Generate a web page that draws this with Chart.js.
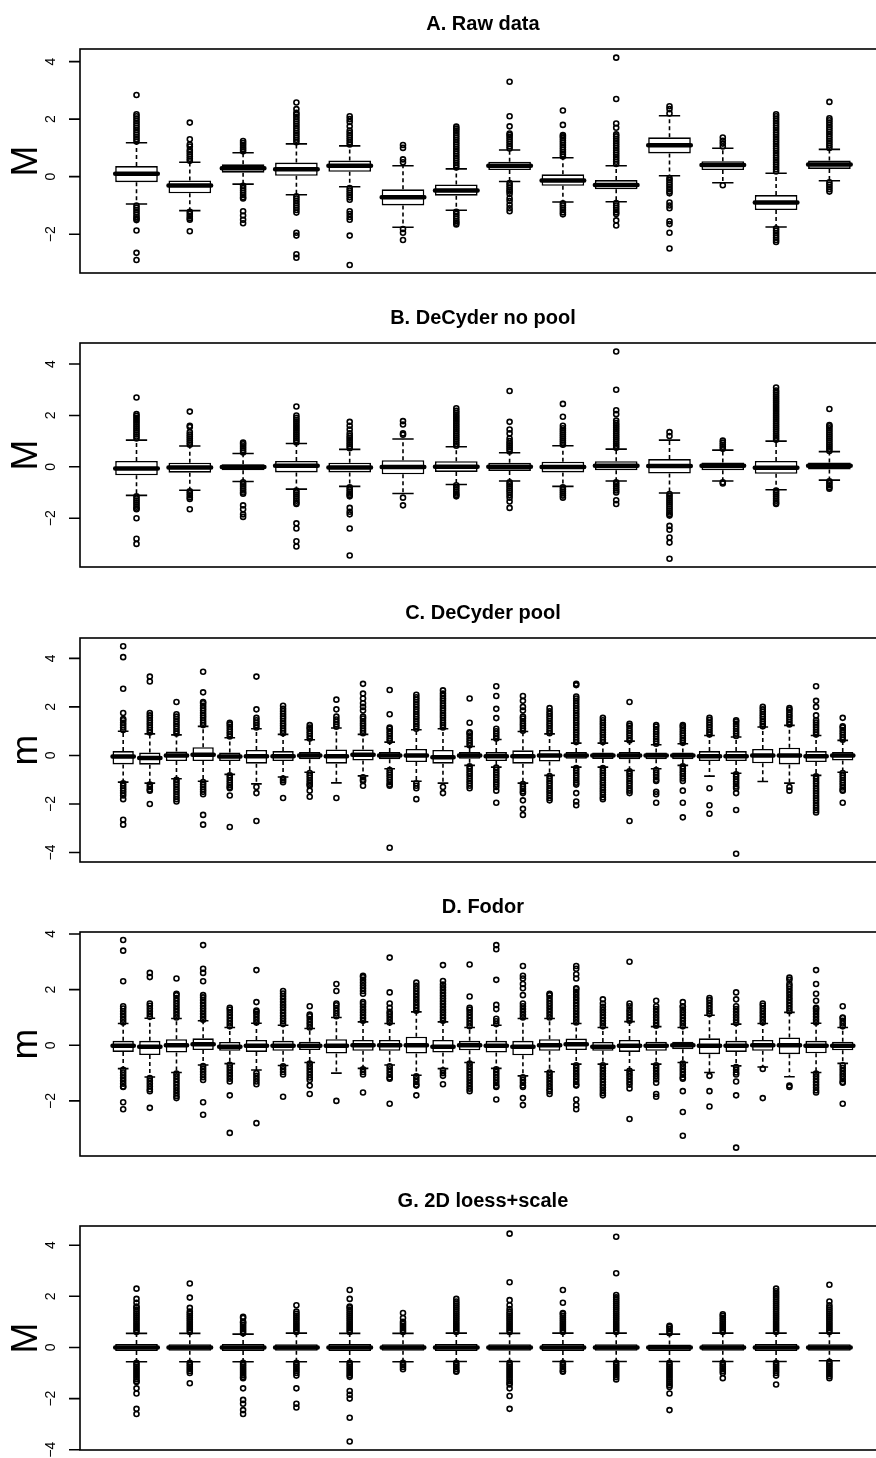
<!DOCTYPE html>
<html>
<head>
<meta charset="utf-8">
<title>Normalisation boxplots</title>
<script src="https://cdn.jsdelivr.net/npm/chart.js@4.4.0/dist/chart.umd.min.js"></script>
<style>
  html, body { margin: 0; padding: 0; background: #fff; width: 876px; height: 1458px; overflow: hidden; }
  canvas.panel { position: absolute; left: 0; }
</style>
</head>
<body>
<canvas id="panelA" class="panel" width="890" height="294" style="top:0px"></canvas>
<canvas id="panelB" class="panel" width="890" height="294" style="top:294px"></canvas>
<canvas id="panelC" class="panel" width="890" height="294" style="top:589px"></canvas>
<canvas id="panelD" class="panel" width="890" height="294" style="top:883px"></canvas>
<canvas id="panelG" class="panel" width="890" height="294" style="top:1177px"></canvas>
<script>
// ---- A. Raw data ----
const titleA = 'A. Raw data';
const ylabA = 'M';
const ticksA = [-2, 0, 2, 4];
const rangeA = [-3.35, 4.44];
const q1A  = [-0.19, -0.58, 0.14, 0.03, 0.17, -1.0, -0.66, 0.23, -0.32, -0.44, 0.81, 0.23, -1.16, 0.27];
const medA = [0.10, -0.31, 0.29, 0.26, 0.38, -0.72, -0.48, 0.38, -0.13, -0.29, 1.09, 0.41, -0.9, 0.42];
const q3A  = [0.37, -0.13, 0.43, 0.49, 0.56, -0.44, -0.27, 0.52, 0.08, -0.12, 1.37, 0.54, -0.64, 0.56];
const loA  = [-0.95, -1.18, -0.26, -0.63, -0.35, -1.76, -1.17, -0.17, -0.88, -0.87, 0.03, -0.21, -1.75, -0.14];
const hiA  = [1.18, 0.5, 0.83, 1.14, 1.07, 0.38, 0.27, 0.93, 0.66, 0.38, 2.12, 0.99, 0.12, 0.95];
const outA = [
  [1.22,1.3,1.38,1.46,1.54,1.62,1.7,1.78,1.86,1.94,2.02,2.1,2.17,2.84,-1.0,-1.08,-1.16,-1.24,-1.32,-1.4,-1.46,-1.51,-1.87,-2.65,-2.9],
  [0.55,0.62,0.7,0.78,0.86,0.93,1.05,1.12,1.3,1.88,-1.22,-1.3,-1.38,-1.45,-1.5,-1.9],
  [0.88,0.95,1.02,1.1,1.17,1.24,-0.32,-0.4,-0.48,-0.56,-0.64,-0.72,-0.76,-1.2,-1.35,-1.5,-1.62],
  [1.2,1.28,1.36,1.44,1.52,1.6,1.68,1.76,1.84,1.92,2.0,2.08,2.16,2.22,2.35,2.58,-0.68,-0.76,-0.84,-0.92,-1.0,-1.08,-1.16,-1.25,-1.95,-2.05,-2.7,-2.82],
  [1.12,1.2,1.28,1.36,1.44,1.52,1.6,1.75,1.9,2.0,2.1,-0.4,-0.48,-0.56,-0.64,-0.72,-0.8,-1.2,-1.3,-1.4,-1.5,-2.05,-3.07],
  [0.5,0.6,1.0,1.1,-1.82,-1.95,-2.2],
  [0.32,0.4,0.48,0.56,0.64,0.72,0.8,0.88,0.96,1.04,1.12,1.2,1.28,1.36,1.44,1.52,1.6,1.67,1.74,-1.22,-1.3,-1.38,-1.46,-1.54,-1.6,-1.66],
  [0.98,1.06,1.14,1.22,1.3,1.38,1.45,1.5,1.75,2.1,3.3,-0.22,-0.3,-0.38,-0.46,-0.52,-0.6,-0.75,-0.85,-0.98,-1.1,-1.2],
  [0.7,0.78,0.86,0.94,1.02,1.1,1.18,1.26,1.34,1.4,1.45,1.8,2.3,-0.93,-1.0,-1.08,-1.16,-1.24,-1.31],
  [0.44,0.52,0.6,0.68,0.76,0.84,0.92,1.0,1.08,1.16,1.24,1.32,1.4,1.47,1.7,1.85,2.7,4.14,-0.92,-1.0,-1.08,-1.16,-1.24,-1.3,-1.52,-1.7],
  [2.2,2.35,2.45,-0.05,-0.12,-0.2,-0.28,-0.36,-0.44,-0.52,-0.58,-0.9,-1.0,-1.1,-1.55,-1.65,-1.95,-2.5],
  [1.05,1.15,1.25,1.36,-0.3],
  [0.18,0.26,0.34,0.42,0.5,0.58,0.66,0.74,0.82,0.9,0.98,1.06,1.14,1.22,1.3,1.38,1.46,1.54,1.62,1.7,1.78,1.86,1.94,2.02,2.1,2.17,-1.8,-1.88,-1.96,-2.04,-2.12,-2.2,-2.27],
  [1.0,1.08,1.16,1.24,1.32,1.4,1.48,1.56,1.64,1.72,1.8,1.88,1.96,2.03,2.6,-0.2,-0.28,-0.36,-0.44,-0.52]
];

// ---- B. DeCyder no pool ----
const titleB = 'B. DeCyder no pool';
const ylabB = 'M';
const ticksB = [-2, 0, 2, 4];
const rangeB = [-3.9, 4.82];
const q1B  = [-0.33, -0.23, -0.13, -0.22, -0.22, -0.29, -0.2, -0.16, -0.22, -0.13, -0.26, -0.13, -0.27, -0.1];
const medB = [-0.07, -0.03, -0.01, 0.04, -0.03, -0.01, 0.0, 0.0, -0.01, 0.04, 0.03, 0.04, -0.04, 0.04];
const q3B  = [0.23, 0.16, 0.1, 0.23, 0.16, 0.26, 0.22, 0.16, 0.2, 0.22, 0.3, 0.17, 0.23, 0.17];
const loB  = [-1.11, -0.91, -0.57, -0.87, -0.76, -1.04, -0.69, -0.55, -0.76, -0.55, -1.02, -0.55, -0.89, -0.52];
const hiB  = [1.04, 0.81, 0.52, 0.91, 0.68, 1.08, 0.78, 0.55, 0.82, 0.69, 1.04, 0.65, 1.0, 0.59];
const outB = [
  [1.1,1.18,1.26,1.34,1.42,1.5,1.58,1.66,1.74,1.82,1.9,1.98,2.05,2.7,-1.15,-1.23,-1.31,-1.39,-1.47,-1.55,-1.62,-1.65,-2.0,-2.8,-3.0],
  [0.86,0.94,1.02,1.1,1.18,1.26,1.35,1.55,1.6,2.15,-0.95,-1.03,-1.11,-1.19,-1.25,-1.65],
  [0.56,0.64,0.72,0.8,0.88,0.94,-0.6,-0.68,-0.76,-0.84,-0.92,-1.0,-1.05,-1.5,-1.65,-1.85,-1.95],
  [0.95,1.03,1.11,1.19,1.27,1.35,1.43,1.51,1.59,1.67,1.75,1.83,1.91,2.0,2.35,-0.92,-1.0,-1.08,-1.16,-1.24,-1.32,-1.4,-1.45,-2.2,-2.4,-2.9,-3.1],
  [0.72,0.8,0.88,0.96,1.04,1.12,1.2,1.3,1.45,1.6,1.75,-0.8,-0.88,-0.96,-1.04,-1.1,-1.15,-1.6,-1.75,-1.85,-2.4,-3.45],
  [1.25,1.3,1.65,1.78,-1.2,-1.5],
  [0.82,0.9,0.98,1.06,1.14,1.22,1.3,1.38,1.46,1.54,1.62,1.7,1.78,1.86,1.94,2.02,2.1,2.18,2.28,-0.72,-0.8,-0.88,-0.96,-1.04,-1.1,-1.15],
  [0.6,0.68,0.76,0.84,0.92,1.0,1.1,1.3,1.45,1.75,2.95,-0.6,-0.68,-0.76,-0.84,-0.92,-1.0,-1.1,-1.2,-1.35,-1.6],
  [0.86,0.94,1.02,1.1,1.18,1.26,1.34,1.42,1.5,1.6,1.95,2.45,-0.8,-0.88,-0.96,-1.04,-1.12,-1.2],
  [0.74,0.82,0.9,0.98,1.06,1.14,1.22,1.3,1.38,1.46,1.54,1.62,1.7,1.8,2.05,2.2,3.0,4.49,-0.6,-0.68,-0.76,-0.84,-0.92,-1.0,-1.3,-1.45],
  [1.2,1.35,-1.06,-1.14,-1.22,-1.3,-1.38,-1.46,-1.54,-1.62,-1.7,-1.78,-1.85,-1.9,-2.3,-2.45,-2.75,-2.95,-3.58],
  [0.7,0.78,0.86,0.94,1.02,-0.6,-0.65],
  [1.05,1.13,1.21,1.29,1.37,1.45,1.53,1.61,1.69,1.77,1.85,1.93,2.01,2.09,2.17,2.25,2.33,2.41,2.49,2.57,2.65,2.73,2.81,2.89,2.97,3.09,-0.92,-1.0,-1.08,-1.16,-1.24,-1.32,-1.4,-1.45],
  [0.62,0.7,0.78,0.86,0.94,1.02,1.1,1.18,1.26,1.34,1.42,1.5,1.58,1.63,2.25,-0.56,-0.64,-0.72,-0.8,-0.85]
];

// ---- C. DeCyder pool ----
const titleC = 'C. DeCyder pool';
const ylabC = 'm';
const ticksC = [-4, -2, 0, 2, 4];
const rangeC = [-4.39, 4.84];
const q1C  = [-0.37, -0.38, -0.23, -0.23, -0.23, -0.34, -0.23, -0.16, -0.34, -0.21, -0.16, -0.27, -0.34, -0.14, -0.23, -0.34, -0.25, -0.14, -0.15, -0.16, -0.16, -0.16, -0.23, -0.23, -0.32, -0.37, -0.27, -0.21];
const medC = [-0.04, -0.1, 0, 0.03, -0.04, -0.03, -0.03, 0, -0.03, 0.03, 0, 0, -0.07, 0, -0.03, -0.03, 0, 0, 0, 0, 0, 0, -0.03, -0.03, 0, 0, -0.03, 0];
const q3C  = [0.18, 0.12, 0.16, 0.34, 0.12, 0.23, 0.18, 0.14, 0.25, 0.25, 0.14, 0.27, 0.23, 0.14, 0.14, 0.21, 0.23, 0.14, 0.12, 0.14, 0.12, 0.12, 0.18, 0.18, 0.27, 0.32, 0.18, 0.14];
const loC  = [-1.1, -1.14, -0.96, -1.06, -0.78, -1.17, -0.89, -0.69, -1.13, -0.84, -0.55, -1.06, -1.14, -0.41, -0.48, -1.14, -0.82, -0.48, -0.48, -0.62, -0.55, -0.41, -0.85, -0.73, -1.07, -1.14, -0.82, -0.69];
const hiC  = [1.0, 0.89, 0.85, 1.2, 0.73, 1.1, 0.87, 0.65, 1.13, 0.87, 0.55, 1.06, 1.1, 0.37, 0.66, 0.99, 0.89, 0.51, 0.51, 0.59, 0.44, 0.48, 0.82, 0.76, 1.17, 1.24, 0.82, 0.62];
const outC = [
  [1.05,1.15,1.25,1.35,1.45,1.5,1.75,2.75,4.05,4.5,-1.15,-1.25,-1.35,-1.45,-1.55,-1.65,-1.8,-2.65,-2.85],
  [0.95,1.05,1.15,1.25,1.35,1.45,1.55,1.65,1.75,3.05,3.25,-1.2,-1.3,-1.4,-1.45,-2.0],
  [0.9,1.0,1.1,1.2,1.3,1.4,1.5,1.6,1.7,2.2,-1.0,-1.1,-1.2,-1.3,-1.4,-1.5,-1.6,-1.7,-1.8,-1.9],
  [1.25,1.35,1.45,1.55,1.65,1.75,1.85,1.95,2.05,2.15,2.2,2.6,3.45,-1.1,-1.2,-1.3,-1.4,-1.5,-1.6,-2.45,-2.85],
  [0.78,0.88,0.98,1.08,1.18,1.28,1.35,-0.82,-0.92,-1.02,-1.12,-1.22,-1.3,-1.35,-1.65,-2.95],
  [1.15,1.25,1.35,1.45,1.55,1.9,3.25,-1.3,-1.55,-2.7],
  [0.92,1.02,1.12,1.22,1.32,1.42,1.52,1.62,1.72,1.82,1.92,2.05,-0.95,-1.02,-1.1,-1.75],
  [0.7,0.8,0.9,1.0,1.1,1.15,1.25,-0.72,-0.82,-0.92,-1.02,-1.12,-1.2,-1.25,-1.45,-1.7],
  [1.18,1.28,1.38,1.48,1.6,1.9,2.3,-1.75],
  [0.92,1.02,1.12,1.22,1.32,1.42,1.52,1.6,1.85,2.0,2.15,2.35,2.55,2.95,-0.9,-1.0,-1.05,-1.25],
  [0.6,0.7,0.8,0.9,1.0,1.1,1.15,1.7,2.7,-0.6,-0.7,-0.8,-0.9,-1.0,-1.1,-1.2,-1.25,-3.8],
  [1.1,1.2,1.3,1.4,1.5,1.6,1.7,1.8,1.9,2.0,2.1,2.2,2.3,2.4,2.5,-1.15,-1.25,-1.35,-1.8],
  [1.15,1.25,1.35,1.45,1.55,1.65,1.75,1.85,1.95,2.05,2.15,2.25,2.35,2.45,2.55,2.68,-1.3,-1.55],
  [0.42,0.52,0.62,0.72,0.82,0.92,0.95,1.35,2.35,-0.45,-0.55,-0.65,-0.75,-0.85,-0.95,-1.05,-1.15,-1.25,-1.35],
  [0.7,0.8,0.9,1.0,1.1,1.54,1.92,2.45,2.85,-0.5,-0.6,-0.7,-0.8,-0.9,-1.0,-1.1,-1.2,-1.3,-1.45,-1.95],
  [1.02,1.12,1.22,1.32,1.42,1.52,1.6,1.85,2.0,2.25,2.45,-1.18,-1.28,-1.38,-1.48,-1.55,-1.85,-2.2,-2.45],
  [0.92,1.02,1.12,1.22,1.32,1.42,1.52,1.62,1.72,1.82,1.95,-0.85,-0.95,-1.05,-1.15,-1.25,-1.35,-1.45,-1.55,-1.65,-1.75,-1.85],
  [0.55,0.65,0.75,0.85,0.95,1.05,1.15,1.25,1.35,1.45,1.55,1.65,1.75,1.85,1.95,2.05,2.15,2.25,2.35,2.43,2.9,2.95,-0.52,-0.62,-0.72,-0.82,-0.92,-1.02,-1.12,-1.2,-1.55,-1.9,-2.05],
  [0.55,0.65,0.75,0.85,0.95,1.05,1.15,1.25,1.35,1.45,1.55,-0.52,-0.62,-0.72,-0.82,-0.92,-1.02,-1.12,-1.22,-1.32,-1.42,-1.52,-1.62,-1.72,-1.8],
  [0.62,0.72,0.82,0.92,1.02,1.12,1.22,1.3,2.2,-0.65,-0.75,-0.85,-0.95,-1.05,-1.15,-1.25,-1.35,-1.45,-1.55,-2.7],
  [0.48,0.58,0.68,0.78,0.88,0.98,1.08,1.18,1.25,-0.6,-0.7,-0.8,-0.9,-1.0,-1.05,-1.5,-1.6,-1.95],
  [0.52,0.62,0.72,0.82,0.92,1.02,1.12,1.2,1.25,-0.45,-0.55,-0.65,-0.75,-0.85,-0.95,-1.05,-1.45,-1.95,-2.55],
  [0.86,0.96,1.06,1.16,1.26,1.36,1.46,1.55,-1.35,-2.05,-2.4],
  [0.8,0.9,1.0,1.1,1.2,1.3,1.4,1.45,-0.78,-0.88,-0.98,-1.08,-1.18,-1.28,-1.35,-1.55,-2.25,-4.05],
  [1.2,1.3,1.4,1.5,1.6,1.7,1.8,1.9,2.0],
  [1.28,1.38,1.48,1.58,1.68,1.78,1.88,1.95,-1.3,-1.45],
  [0.86,0.96,1.06,1.16,1.26,1.36,1.45,1.65,2.0,2.25,2.85,-0.86,-0.96,-1.06,-1.16,-1.26,-1.36,-1.46,-1.56,-1.66,-1.76,-1.86,-1.96,-2.06,-2.16,-2.26,-2.35],
  [0.65,0.75,0.85,0.95,1.05,1.15,1.2,1.55,-0.72,-0.82,-0.92,-1.02,-1.12,-1.22,-1.32,-1.42,-1.45,-1.95]
];

// ---- D. Fodor ----
const titleD = 'D. Fodor';
const ylabD = 'm';
const ticksD = [-2, 0, 2, 4];
const rangeD = [-3.98, 4.07];
const q1D  = [-0.24, -0.35, -0.26, -0.17, -0.2, -0.24, -0.2, -0.17, -0.3, -0.2, -0.2, -0.3, -0.26, -0.18, -0.26, -0.36, -0.2, -0.17, -0.2, -0.24, -0.2, -0.14, -0.32, -0.24, -0.2, -0.32, -0.29, -0.18];
const medD = [-0.02, -0.05, 0, 0.04, -0.05, -0.02, -0.02, -0.02, -0.02, 0, 0, 0, -0.05, 0, -0.02, -0.05, 0, 0.04, -0.05, -0.02, -0.02, 0, -0.02, -0.02, 0, 0, -0.02, -0.02];
const q3D  = [0.16, 0.16, 0.22, 0.25, 0.12, 0.19, 0.16, 0.13, 0.22, 0.19, 0.19, 0.31, 0.19, 0.16, 0.16, 0.16, 0.22, 0.24, 0.12, 0.19, 0.13, 0.13, 0.25, 0.16, 0.19, 0.28, 0.16, 0.13];
const loD  = [-0.84, -1.14, -0.98, -0.71, -0.66, -0.89, -0.73, -0.62, -1.0, -0.83, -0.71, -1.08, -0.84, -0.62, -0.83, -1.1, -0.95, -0.68, -0.68, -0.9, -0.68, -0.62, -0.98, -0.74, -0.78, -1.13, -0.98, -0.65];
const hiD  = [0.78, 0.97, 0.96, 0.88, 0.64, 0.79, 0.72, 0.6, 1.0, 0.84, 0.78, 1.2, 0.84, 0.64, 0.72, 0.96, 0.96, 0.78, 0.64, 0.85, 0.67, 0.64, 1.08, 0.76, 0.78, 1.18, 0.79, 0.64];
const outD = [
  [0.82,0.92,1.02,1.12,1.22,1.32,1.4,2.3,3.4,3.78,-0.88,-0.98,-1.08,-1.18,-1.28,-1.38,-1.48,-1.5,-2.05,-2.3],
  [1.02,1.12,1.22,1.32,1.42,1.5,2.45,2.6,-1.18,-1.28,-1.38,-1.48,-1.58,-1.65,-2.25],
  [1.0,1.1,1.2,1.3,1.4,1.5,1.6,1.7,1.8,1.85,2.4,-1.02,-1.12,-1.22,-1.32,-1.42,-1.52,-1.62,-1.72,-1.82,-1.9],
  [0.92,1.02,1.12,1.22,1.32,1.42,1.52,1.62,1.72,1.8,2.3,2.6,2.75,3.6,-0.75,-0.85,-0.95,-1.05,-1.15,-1.25,-2.05,-2.5],
  [0.68,0.78,0.88,0.98,1.08,1.18,1.28,1.35,-0.7,-0.8,-0.9,-1.0,-1.1,-1.2,-1.3,-1.8,-3.15],
  [0.82,0.92,1.02,1.12,1.2,1.25,1.55,2.7,-1.0,-1.1,-1.2,-1.3,-1.4,-2.8],
  [0.76,0.86,0.96,1.06,1.16,1.26,1.36,1.46,1.56,1.66,1.76,1.86,1.95,-0.76,-0.86,-0.96,-1.05,-1.85],
  [0.64,0.74,0.84,0.94,1.04,1.1,1.4,-0.66,-0.76,-0.86,-0.96,-1.06,-1.16,-1.25,-1.45,-1.75],
  [1.04,1.14,1.24,1.34,1.44,1.5,1.95,2.2,-2.0],
  [0.88,0.98,1.08,1.18,1.28,1.38,1.48,1.55,1.85,1.95,2.05,2.15,2.25,2.35,2.45,2.5,-0.86,-0.96,-1.05,-1.7],
  [0.82,0.92,1.02,1.12,1.2,1.35,1.5,1.9,3.15,-0.76,-0.86,-0.96,-1.06,-1.16,-1.2,-2.1],
  [1.24,1.34,1.44,1.54,1.64,1.74,1.84,1.94,2.04,2.14,2.25,-1.12,-1.22,-1.32,-1.42,-1.45,-1.8],
  [0.88,0.98,1.08,1.18,1.28,1.38,1.48,1.58,1.68,1.78,1.88,1.98,2.08,2.18,2.31,2.88,-0.9,-1.0,-1.1,-1.4],
  [0.68,0.78,0.88,0.98,1.08,1.18,1.28,1.35,1.75,2.9,-0.66,-0.76,-0.86,-0.96,-1.06,-1.16,-1.26,-1.36,-1.46,-1.56,-1.65],
  [0.76,0.86,0.95,1.3,1.45,2.35,3.45,3.6,-0.86,-0.96,-1.06,-1.16,-1.26,-1.36,-1.46,-1.5,-1.95],
  [1.0,1.1,1.2,1.3,1.4,1.5,1.8,2.05,2.2,2.4,2.5,2.85,-1.15,-1.25,-1.35,-1.45,-1.5,-1.9,-2.15],
  [1.0,1.1,1.2,1.3,1.4,1.5,1.6,1.7,1.8,1.85,-0.98,-1.08,-1.18,-1.28,-1.38,-1.48,-1.58,-1.65,-1.75],
  [0.82,0.92,1.02,1.12,1.22,1.32,1.42,1.52,1.62,1.72,1.82,1.92,2.02,2.05,2.4,2.55,2.75,2.85,-0.72,-0.82,-0.92,-1.02,-1.12,-1.22,-1.32,-1.42,-1.45,-1.95,-2.15,-2.3],
  [0.68,0.78,0.88,0.98,1.08,1.18,1.28,1.38,1.5,1.65,-0.72,-0.82,-0.92,-1.02,-1.12,-1.22,-1.32,-1.42,-1.52,-1.62,-1.72,-1.8],
  [0.88,0.98,1.08,1.18,1.28,1.4,1.5,3.0,-0.92,-1.02,-1.12,-1.22,-1.32,-1.42,-1.55,-2.65],
  [0.7,0.8,0.9,1.0,1.1,1.2,1.3,1.4,1.6,-0.72,-0.82,-0.92,-1.02,-1.12,-1.22,-1.35,-1.75,-1.85],
  [0.68,0.78,0.88,0.98,1.08,1.18,1.28,1.38,1.4,1.55,-0.66,-0.76,-0.86,-0.96,-1.06,-1.16,-1.2,-1.65,-2.4,-3.25],
  [1.12,1.22,1.32,1.42,1.52,1.62,1.7,-1.1,-1.65,-2.2],
  [0.8,0.9,1.0,1.1,1.2,1.3,1.4,1.65,1.9,-0.78,-0.88,-0.98,-1.05,-1.3,-1.8,-3.68],
  [0.82,0.92,1.02,1.12,1.22,1.32,1.42,1.5,-0.85,-1.9],
  [1.22,1.32,1.42,1.52,1.62,1.72,1.82,1.92,2.02,2.12,2.2,2.35,2.43,-1.45,-1.5],
  [0.82,0.92,1.02,1.12,1.22,1.3,1.35,1.6,1.85,2.2,2.7,-1.02,-1.12,-1.22,-1.32,-1.42,-1.52,-1.62,-1.7],
  [0.68,0.78,0.88,0.98,1.0,1.4,-0.72,-0.82,-0.92,-1.02,-1.12,-1.22,-1.32,-1.35,-2.1]
];

// ---- G. 2D loess+scale ----
const titleG = 'G. 2D loess+scale';
const ylabG = 'M';
const ticksG = [-4, -2, 0, 2, 4];
const rangeG = [-4.01, 4.75];
const q1G  = [-0.14, -0.13, -0.14, -0.13, -0.14, -0.13, -0.14, -0.13, -0.14, -0.13, -0.14, -0.13, -0.14, -0.13];
const medG = [0, 0, 0, 0, 0, 0, 0, 0, 0, 0, 0, 0, 0, 0];
const q3G  = [0.14, 0.13, 0.14, 0.13, 0.14, 0.13, 0.14, 0.13, 0.14, 0.13, 0.12, 0.13, 0.14, 0.13];
const loG  = [-0.56, -0.56, -0.56, -0.56, -0.56, -0.56, -0.55, -0.55, -0.55, -0.55, -0.55, -0.55, -0.55, -0.52];
const hiG  = [0.55, 0.55, 0.52, 0.56, 0.55, 0.55, 0.56, 0.55, 0.56, 0.56, 0.52, 0.56, 0.56, 0.56];
const outG = [
  [0.6,0.68,0.76,0.84,0.92,1.0,1.08,1.16,1.24,1.32,1.4,1.48,1.56,1.6,1.75,1.9,2.3,-0.6,-0.68,-0.76,-0.84,-0.92,-1.0,-1.08,-1.16,-1.24,-1.32,-1.35,-1.6,-1.8,-2.4,-2.6],
  [0.6,0.68,0.76,0.84,0.92,1.0,1.08,1.16,1.24,1.32,1.4,1.55,1.95,2.5,-0.6,-0.68,-0.76,-0.84,-0.92,-1.0,-1.4],
  [0.56,0.64,0.72,0.8,0.88,0.96,1.0,1.15,1.2,-0.6,-0.68,-0.76,-0.84,-0.92,-1.0,-1.08,-1.16,-1.2,-1.6,-2.05,-2.2,-2.45,-2.6],
  [0.6,0.68,0.76,0.84,0.92,1.0,1.08,1.16,1.24,1.32,1.4,1.65,-0.6,-0.68,-0.76,-0.84,-0.92,-1.0,-1.1,-1.6,-2.2,-2.35],
  [0.6,0.68,0.76,0.84,0.92,1.0,1.08,1.16,1.24,1.32,1.4,1.48,1.56,1.6,1.9,2.25,-0.6,-0.68,-0.76,-0.84,-0.92,-1.0,-1.08,-1.15,-1.7,-1.85,-2.0,-2.75,-3.68],
  [0.6,0.68,0.76,0.84,0.92,1.0,1.15,1.35,-0.6,-0.68,-0.76,-0.85],
  [0.6,0.68,0.76,0.84,0.92,1.0,1.08,1.16,1.24,1.32,1.4,1.48,1.56,1.64,1.72,1.8,1.9,-0.6,-0.68,-0.76,-0.84,-0.92,-0.95],
  [0.6,0.68,0.76,0.84,0.92,1.0,1.08,1.16,1.24,1.32,1.4,1.5,1.65,1.85,2.55,4.45,-0.6,-0.68,-0.76,-0.84,-0.92,-1.0,-1.08,-1.16,-1.24,-1.32,-1.4,-1.45,-1.6,-1.9,-2.4],
  [0.6,0.68,0.76,0.84,0.92,1.0,1.08,1.16,1.24,1.32,1.35,1.75,2.25,-0.6,-0.68,-0.76,-0.84,-0.92,-0.95],
  [0.6,0.68,0.76,0.84,0.92,1.0,1.08,1.16,1.24,1.32,1.4,1.48,1.56,1.64,1.72,1.8,1.88,1.96,2.05,2.9,4.33,-0.6,-0.68,-0.76,-0.84,-0.92,-1.0,-1.08,-1.16,-1.25],
  [0.56,0.64,0.72,0.8,0.85,-0.6,-0.68,-0.76,-0.84,-0.92,-1.0,-1.08,-1.16,-1.24,-1.32,-1.4,-1.48,-1.55,-1.8,-2.45],
  [0.6,0.68,0.76,0.84,0.92,1.0,1.08,1.16,1.24,1.3,-0.6,-0.68,-0.76,-0.84,-0.92,-1.0,-1.2],
  [0.6,0.68,0.76,0.84,0.92,1.0,1.08,1.16,1.24,1.32,1.4,1.48,1.56,1.64,1.72,1.8,1.88,1.96,2.04,2.12,2.2,2.3,-0.6,-0.68,-0.76,-0.84,-0.92,-1.0,-1.1,-1.45],
  [0.6,0.68,0.76,0.84,0.92,1.0,1.08,1.16,1.24,1.32,1.4,1.48,1.56,1.65,1.8,2.45,-0.56,-0.64,-0.72,-0.8,-0.88,-0.96,-1.04,-1.12,-1.2]
];

// drawing settings
const FONT = '"Liberation Sans", Arial, Helvetica, sans-serif';
const LINE = 1.6;

function buildPanel(canvasId, title, ylab, ticks, range, q1, med, q3, lo, hi, out) {
  const n = med.length;
  const pos = med.map((v, i) => i + 1);
  const boxes = pos.map((p, i) => ({ x: p, y: [q1[i], q3[i]] }));
  const points = [];
  out.forEach((vals, i) => vals.forEach(v => points.push({ x: pos[i], y: v })));
  const ext = 0.04 * n;   // R pads the axis range by 4%

  const boxPlot = {
    id: 'boxPlot',
    beforeDatasetsDraw(chart) {
      // whiskers (dashed) and staples
      const { ctx, scales: { x, y } } = chart;
      ctx.save();
      ctx.strokeStyle = '#000';
      ctx.lineWidth = LINE;
      pos.forEach((p, i) => {
        const xc = x.getPixelForValue(p);
        const hw = x.getPixelForValue(p + 0.2) - xc;
        ctx.setLineDash([4, 3]);
        ctx.beginPath();
        ctx.moveTo(xc, y.getPixelForValue(q3[i]));
        ctx.lineTo(xc, y.getPixelForValue(hi[i]));
        ctx.moveTo(xc, y.getPixelForValue(q1[i]));
        ctx.lineTo(xc, y.getPixelForValue(lo[i]));
        ctx.stroke();
        ctx.setLineDash([]);
        ctx.beginPath();
        [hi[i], lo[i]].forEach(v => {
          const py = y.getPixelForValue(v);
          ctx.moveTo(xc - hw, py);
          ctx.lineTo(xc + hw, py);
        });
        ctx.stroke();
      });
      ctx.restore();
    },
    afterDatasetsDraw(chart) {
      // medians
      const { ctx, scales: { x, y } } = chart;
      ctx.save();
      ctx.strokeStyle = '#000';
      ctx.lineWidth = 4.5;
      ctx.lineCap = 'round';
      ctx.beginPath();
      pos.forEach((p, i) => {
        const py = y.getPixelForValue(med[i]);
        ctx.moveTo(x.getPixelForValue(p - 0.4), py);
        ctx.lineTo(x.getPixelForValue(p + 0.4), py);
      });
      ctx.stroke();
      ctx.restore();
    },
    afterDraw(chart) {
      const { ctx, chartArea: a, scales: { y } } = chart;
      ctx.save();
      ctx.strokeStyle = '#000';
      ctx.fillStyle = '#000';
      ctx.lineWidth = LINE;
      ctx.strokeRect(a.left, a.top, a.right - a.left, a.bottom - a.top);

      // y axis ticks
      ctx.beginPath();
      ticks.forEach(t => {
        const py = y.getPixelForValue(t);
        ctx.moveTo(a.left - 11, py);
        ctx.lineTo(a.left, py);
      });
      ctx.stroke();

      ctx.textAlign = 'center';
      ctx.textBaseline = 'alphabetic';
      ctx.font = '14px ' + FONT;
      ticks.forEach(t => {
        ctx.save();
        ctx.translate(a.left - 25, y.getPixelForValue(t));
        ctx.rotate(-Math.PI / 2);
        ctx.fillText(String(t).replace('-', '\u2212'), 0, 0);
        ctx.restore();
      });

      // axis label
      ctx.font = '37px ' + FONT;
      ctx.save();
      ctx.translate(37, (a.top + a.bottom) / 2);
      ctx.rotate(-Math.PI / 2);
      ctx.fillText(ylab, 0, 0);
      ctx.restore();

      // panel title
      ctx.font = 'bold 20px ' + FONT;
      ctx.fillText(title, (a.left + a.right) / 2, a.top - 19);
      ctx.restore();
    }
  };

  new Chart(document.getElementById(canvasId), {
    type: 'bar',
    data: {
      datasets: [
        {
          type: 'scatter',
          data: points,
          pointStyle: 'circle',
          pointRadius: 2.5,
          pointHoverRadius: 2.5,
          pointBorderWidth: 1.6,
          pointBorderColor: '#000',
          pointBackgroundColor: 'rgba(0,0,0,0)',
          order: 1
        },
        {
          type: 'bar',
          data: boxes,
          backgroundColor: '#fff',
          borderColor: '#000',
          borderWidth: LINE,
          borderSkipped: false,
          barPercentage: 0.8,
          categoryPercentage: 1,
          order: 2
        }
      ]
    },
    options: {
      responsive: false,
      animation: false,
      devicePixelRatio: 1,
      events: [],
      layout: { padding: { left: 80, right: 3.5, top: 49, bottom: 21 } },
      scales: {
        x: {
          type: 'linear',
          min: 0.5 - ext,
          max: n + 0.5 + ext,
          offset: false,
          display: false,
          afterBuildTicks: axis => { axis.ticks = pos.map(v => ({ value: v })); }
        },
        y: {
          type: 'linear',
          min: range[0],
          max: range[1],
          display: false
        }
      },
      plugins: {
        legend: { display: false },
        tooltip: { enabled: false },
        title: { display: false }
      }
    },
    plugins: [boxPlot]
  });
}

buildPanel('panelA', titleA, ylabA, ticksA, rangeA, q1A, medA, q3A, loA, hiA, outA);
buildPanel('panelB', titleB, ylabB, ticksB, rangeB, q1B, medB, q3B, loB, hiB, outB);
buildPanel('panelC', titleC, ylabC, ticksC, rangeC, q1C, medC, q3C, loC, hiC, outC);
buildPanel('panelD', titleD, ylabD, ticksD, rangeD, q1D, medD, q3D, loD, hiD, outD);
buildPanel('panelG', titleG, ylabG, ticksG, rangeG, q1G, medG, q3G, loG, hiG, outG);
</script>
</body>
</html>
